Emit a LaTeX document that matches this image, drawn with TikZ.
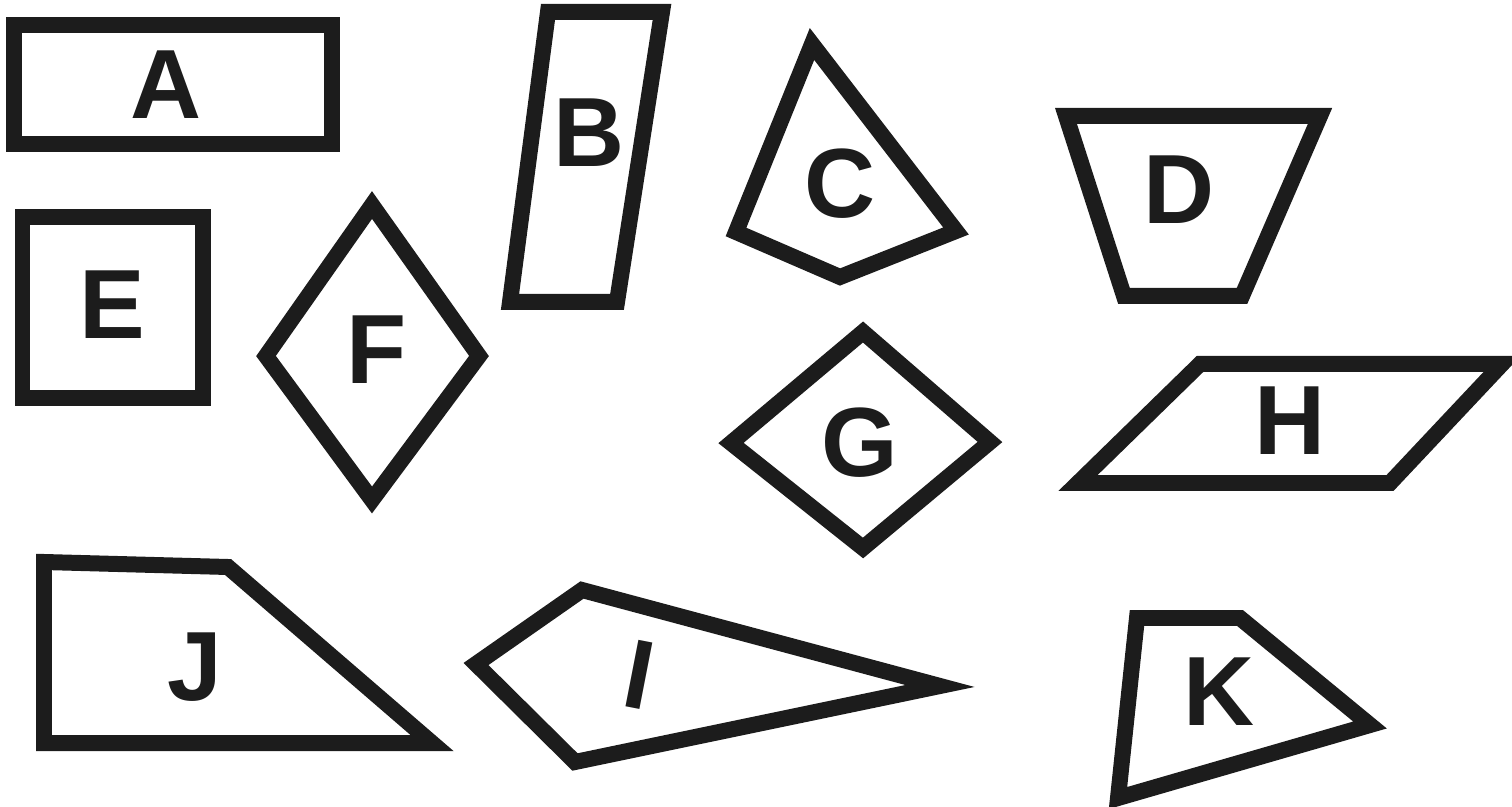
\documentclass[tikz,border=0pt]{standalone}
\usepackage{fontspec}
\setmainfont{Liberation Sans}
\definecolor{tinta}{HTML}{1C1C1C}
\begin{document}
\begin{tikzpicture}[x=0.02cm, y=-0.02cm, line join=miter]
    % Gaya bangun datar dan huruf
    \tikzset{
      bangun/.style={draw=tinta, line width=0.32cm},
      huruf/.style={text=tinta, inner sep=0pt,
        font=\bfseries\fontsize{56}{56}\selectfont}
    }
    \useasboundingbox (0,0) rectangle (1512,807);

    % Baris atas
    \draw[bangun] (14,25) rectangle (332,144);
    \node[huruf] (A) at (166,85) {A};

    \draw[bangun] (548,12) -- (662,12) -- (617,302) -- (510,302) -- cycle;
    \node[huruf] (B) at (589,133) {B};

    \draw[bangun] (812,44) -- (956,231) -- (840,277) -- (736,232) -- cycle;
    \node[huruf] (C) at (840,184) {C};

    \draw[bangun] (1066,116) -- (1320,116) -- (1242,296) -- (1124,296) -- cycle;
    \node[huruf] (D) at (1179,190) {D};

    % Baris tengah
    \draw[bangun] (22.5,217.5) rectangle (202.5,398.5);
    \node[huruf] (E) at (112,305) {E};

    \draw[bangun] (372,205) -- (479,356) -- (372,500) -- (266,356) -- cycle;
    \node[huruf] (F) at (377,350) {F};

    \draw[bangun] (863,332) -- (990,442) -- (863,548) -- (731,443) -- cycle;
    \node[huruf] (G) at (860,443) {G};

    \draw[bangun] (1200,364) -- (1502,364) -- (1390,483) -- (1078,483) -- cycle;
    \node[huruf] (H) at (1290,421) {H};

    % Baris bawah
    \draw[bangun] (44,562) -- (228,567) -- (432,743) -- (44,743) -- cycle;
    \node[huruf] (J) at (195,667) {J};

    \draw[bangun] (582,590) -- (940,686) -- (575,762) -- (476,664) -- cycle;
    \node[huruf, rotate=-11] (I) at (639,675) {I};

    \draw[bangun] (1137,618) -- (1240,618) -- (1370,725) -- (1118,798) -- cycle;
    \node[huruf] (K) at (1219,692) {K};
\end{tikzpicture}
\end{document}
